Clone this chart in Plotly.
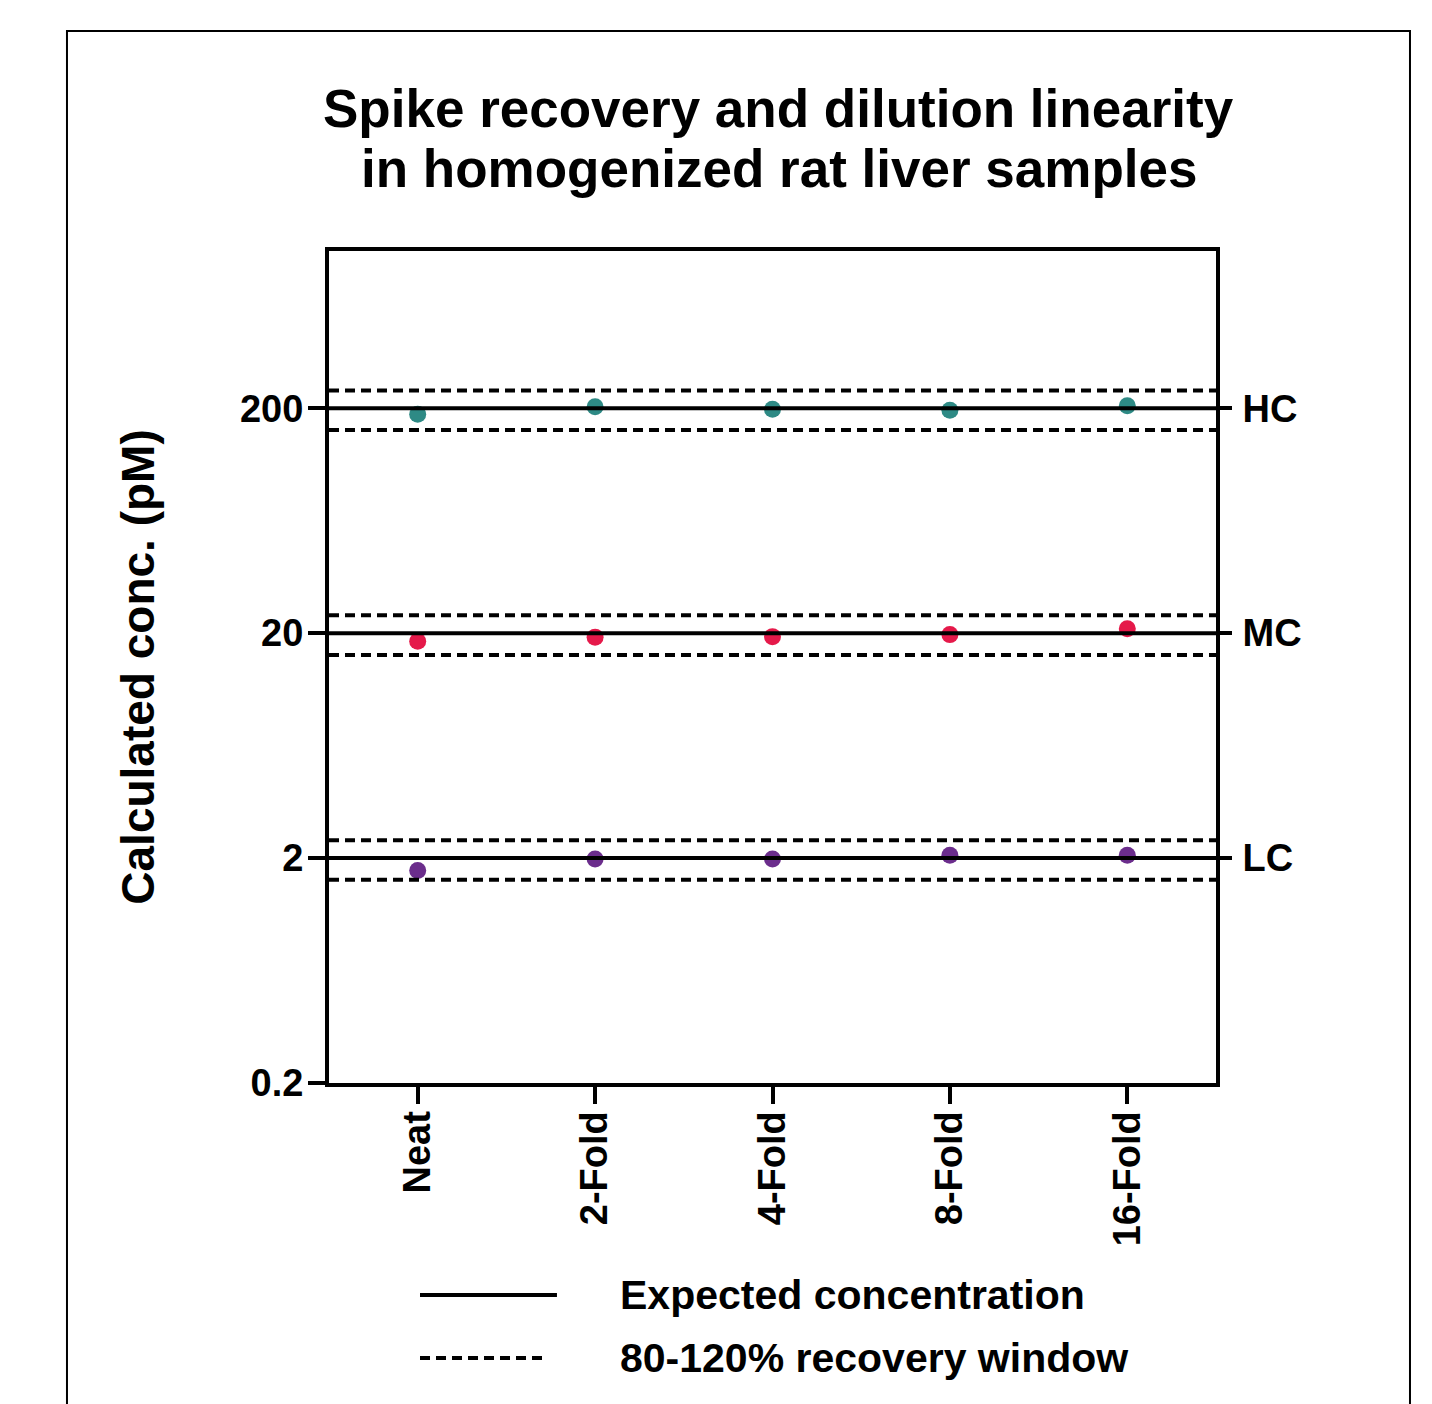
import plotly.graph_objects as go

# ---------------- data ----------------
categories = ["Neat", "2-Fold", "4-Fold", "8-Fold", "16-Fold"]
level_names = ["LC", "MC", "HC"]
expected_conc = [2, 20, 200]
window_low = 0.8
window_high = 1.2

hc_values = [188, 203, 198, 196, 205]
mc_values = [18.4, 19.2, 19.3, 19.7, 20.9]
lc_values = [1.76, 1.98, 1.98, 2.06, 2.06]

y_tick_vals = [0.2, 2, 20, 200]
y_tick_text = ["0.2", "2", "20", "200"]

title_lines = ["Spike recovery and dilution linearity",
               "in homogenized rat liver samples"]

series_colors = {"HC": "#2E8A85", "MC": "#E5194A", "LC": "#6B2D8C"}
series_values = {"HC": hc_values, "MC": mc_values, "LC": lc_values}

FONT = "Liberation Sans, Arial, sans-serif"
x_pos = list(range(len(categories)))
x_span = [-0.5, len(categories) - 0.5]

fig = go.Figure()

# expected and window lines
for conc in expected_conc:
    for factor in (window_low, window_high):
        fig.add_trace(go.Scatter(
            x=x_span, y=[conc * factor, conc * factor], mode="lines",
            line=dict(color="black", width=4, dash="10px,6px"),
            showlegend=False, hoverinfo="skip", yaxis="y2"))
    fig.add_trace(go.Scatter(
        x=x_span, y=[conc, conc], mode="lines",
        line=dict(color="black", width=4),
        showlegend=False, hoverinfo="skip", yaxis="y2"))

# data points
for name in ["HC", "MC", "LC"]:
    fig.add_trace(go.Scatter(
        x=x_pos, y=series_values[name], mode="markers",
        marker=dict(color=series_colors[name], size=17),
        name=name, showlegend=False, cliponaxis=False))

# title (two lines as annotations for exact spacing)
for txt, ypos in zip(title_lines, [1.1707, 1.0986]):
    fig.add_annotation(text=txt, xref="paper", yref="paper",
                       x=0.5073, y=ypos, xanchor="center", yanchor="middle",
                       showarrow=False,
                       font=dict(family=FONT, size=53, color="black", weight="bold"))

# legend (drawn manually)
fig.add_shape(type="line", xref="paper", yref="paper",
              x0=0.1026, x1=0.2570, y0=-0.2548, y1=-0.2548,
              line=dict(color="black", width=4))
fig.add_shape(type="line", xref="paper", yref="paper",
              x0=0.1026, x1=0.2469, y0=-0.3305, y1=-0.3305,
              line=dict(color="black", width=4, dash="10px,6px"))
fig.add_annotation(text="Expected concentration", xref="paper", yref="paper",
                   x=0.3258, y=-0.2548, xanchor="left", yanchor="middle",
                   showarrow=False,
                   font=dict(family=FONT, size=41, color="black", weight="bold"))
fig.add_annotation(text="80-120% recovery window", xref="paper", yref="paper",
                   x=0.3258, y=-0.3305, xanchor="left", yanchor="middle",
                   showarrow=False,
                   font=dict(family=FONT, size=41, color="black", weight="bold"))

# outer frame
fig.add_shape(type="rect", xref="paper", yref="paper",
              x0=-0.2954, x1=1.2187, y0=-0.40, y1=1.2644,
              line=dict(color="black", width=2), layer="below")

yrange = [-0.69897, 3.0]

fig.update_layout(
    width=1432, height=1404,
    margin=dict(l=321, r=224, t=243, b=329),
    paper_bgcolor="white", plot_bgcolor="white",
    xaxis=dict(
        range=x_span, tickvals=x_pos, ticktext=categories, tickangle=-90,
        showline=True, linecolor="black", linewidth=4, mirror=True,
        ticks="outside", ticklen=17, tickwidth=4, tickcolor="black",
        showgrid=False, zeroline=False, ticklabelstandoff=-8,
        tickfont=dict(family=FONT, size=38, color="black", weight="bold")),
    yaxis=dict(
        type="log", range=yrange, tickvals=y_tick_vals, ticktext=y_tick_text,
        showline=True, linecolor="black", linewidth=4, mirror=True,
        ticks="outside", ticklen=17, tickwidth=4, tickcolor="black",
        showgrid=False, zeroline=False, ticklabelstandoff=-3,
        title=dict(text="Calculated conc. (pM)", standoff=72,
                   font=dict(family=FONT, size=46, color="black", weight="bold")),
        tickfont=dict(family=FONT, size=38, color="black", weight="bold")),
    yaxis2=dict(
        type="log", range=yrange, overlaying="y", side="right",
        tickvals=expected_conc, ticktext=level_names,
        showline=False, ticks="outside", ticklen=15, tickwidth=4, tickcolor="black",
        showgrid=False, zeroline=False, ticklabelstandoff=3,
        tickfont=dict(family=FONT, size=38, color="black", weight="bold")),
)

fig.write_html("out.html")
